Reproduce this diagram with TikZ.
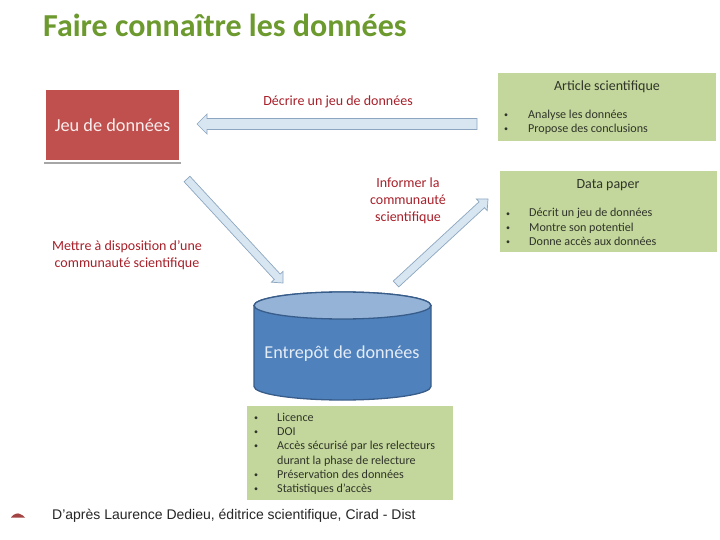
\documentclass[tikz,border=0pt]{standalone}
\usepackage{fontspec}
\setmainfont{Carlito}
\newfontfamily\footfont{Liberation Sans}
\usetikzlibrary{calc,shapes.geometric}
\definecolor{redbox}{HTML}{C0504D}
\definecolor{greenbox}{HTML}{C3D69B}
\definecolor{titlegreen}{HTML}{6C9A2E}
\definecolor{labelred}{HTML}{A8202A}
\definecolor{arrowfill}{HTML}{D8E6F2}
\definecolor{arrowline}{HTML}{8CA6C0}
\definecolor{cylside}{HTML}{4F81BD}
\definecolor{cyltop}{HTML}{95B3D7}
\definecolor{cylline}{HTML}{385D8A}
\definecolor{bodytext}{HTML}{30352A}
\tikzset{
  gbox/.style={fill=greenbox,draw=none},
  lbl/.style={text=labelred,font=\fontsize{14}{17}\selectfont,align=center,inner sep=0pt},
  bul/.style={text=bodytext,font=\fontsize{12.1}{14}\selectfont,anchor=base west,inner sep=0pt},
  dotb/.style={text=bodytext,font=\fontsize{8}{10}\selectfont,anchor=base west,inner sep=0pt},
  hd/.style={text=bodytext,font=\fontsize{14}{16}\selectfont,anchor=base,inner sep=0pt},
  blockarrow/.style={fill=arrowfill,draw=arrowline,line width=0.7pt,line join=miter}
}
% #1 tail, #2 tip, #3 half shaft, #4 half head, #5 head length
\newcommand{\blockarr}[5]{%
  \coordinate (hb) at ($(#2)!#5pt!(#1)$);
  \draw[blockarrow] ($(#1)!#3pt!90:(#2)$) -- ($(hb)!#3pt!-90:(#1)$) -- ($(hb)!#4pt!-90:(#1)$) -- (#2)
    -- ($(hb)!#4pt!90:(#1)$) -- ($(hb)!#3pt!90:(#1)$) -- ($(#1)!#3pt!-90:(#2)$) -- cycle;}
\begin{document}
\begin{tikzpicture}[x=1pt,y=-1pt]
\useasboundingbox (0,0) rectangle (720,540);
\fill[white] (0,0) rectangle (720,540);
% title
\node[anchor=base west,inner sep=0pt,text=titlegreen,font=\fontsize{32}{36}\selectfont\bfseries] (title) at (43,37) {Faire connaître les données};
% red box
\fill[black!35] (44,94) rectangle (181,164);
\node[draw=white,line width=2.5pt,fill=redbox,minimum width=135pt,minimum height=72pt,inner sep=0pt,anchor=center,text=white!90!redbox,font=\fontsize{18.3}{22}\selectfont] (jeu) at (112.5,125) {Jeu de données};
% green boxes
\path[gbox] (498,73) rectangle (716,141);
\node[hd] (art) at (607,91) {Article scientifique};
\node[dotb] (a1b) at (504,118) {•}; \node[bul] (a1) at (528,119) {Analyse les données};
\node[dotb] (a2b) at (504,132) {•}; \node[bul] (a2) at (528,133) {Propose des conclusions};
\path[gbox] (500,171) rectangle (717,252);
\node[hd] (dp) at (608,188.5) {Data paper};
\node[dotb] (d1b) at (506,216) {•}; \node[bul] (d1) at (529,217) {Décrit un jeu de données};
\node[dotb] (d2b) at (506,230) {•}; \node[bul] (d2) at (529,231) {Montre son potentiel};
\node[dotb] (d3b) at (506,244) {•}; \node[bul] (d3) at (529,245) {Donne accès aux données};
\path[gbox] (247,406) rectangle (453,500);
\node[dotb] (e1b) at (254,420) {•}; \node[bul] (e1) at (277,421) {Licence};
\node[dotb] (e2b) at (254,434) {•}; \node[bul] (e2) at (277,435) {DOI};
\node[dotb] (e3b) at (254,448) {•}; \node[bul] (e3) at (277,449) {Accès sécurisé par les relecteurs};
\node[bul] (e4) at (277,464) {durant la phase de relecture};
\node[dotb] (e5b) at (254,477) {•}; \node[bul] (e5) at (277,478) {Préservation des données};
\node[dotb] (e6b) at (254,491) {•}; \node[bul] (e6) at (277,492) {Statistiques d’accès};
% cylinder
\draw[fill=cylside,draw=cylline,line width=1.3pt] (254,305.5) -- (254,386.5) arc[start angle=180,end angle=360,x radius=88.5pt,y radius=13.5pt] -- (431,305.5) arc[start angle=0,end angle=180,x radius=88.5pt,y radius=13.5pt] -- cycle;
\draw[fill=cyltop,draw=cylline,line width=1.3pt] (342.5,305.5) ellipse[x radius=88.5pt,y radius=13.5pt];
\node[text=white!85!cylside,font=\fontsize{18.2}{22}\selectfont,inner sep=0pt] (ent) at (342,354) {Entrepôt de données};
% arrow ends
\coordinate (t1) at (477,124); \coordinate (h1) at (197,124);
\coordinate (t2) at (187,179); \coordinate (h2) at (283,283);
\coordinate (t3) at (396,284); \coordinate (h3) at (488,199);
\blockarr{t1}{h1}{5.5}{10}{10}
\blockarr{t2}{h2}{4}{8}{8.5}
\blockarr{t3}{h3}{4}{8}{8.5}
% labels
\node[lbl] (l1) at (338,102) {Décrire un jeu de données};
\node[lbl] (l2) at (127,255) {Mettre à disposition d’une\\communauté scientifique};
\node[lbl] (l3) at (408,201) {Informer la\\communauté\\scientifique};
% footer
\fill[redbox!85!black] (11,517.5) .. controls (13,514) and (18,512.5) .. (20,514) .. controls (22,515) and (24,516) .. (25,517.5) -- cycle;
\node[anchor=base west,inner sep=0pt,text=black!85,font=\footfont\fontsize{14}{16}\selectfont] (foot) at (52,519) {D’après Laurence Dedieu, éditrice scientifique, Cirad - Dist};
\end{tikzpicture}
\end{document}
